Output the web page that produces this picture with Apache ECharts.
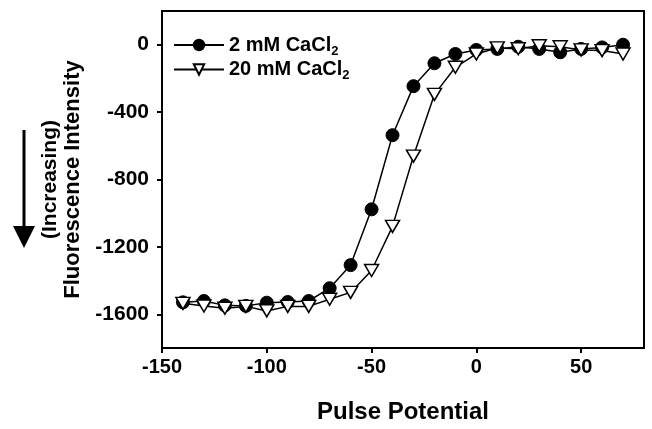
<!DOCTYPE html>
<html>
<head>
    <meta charset="utf-8">
    <title>pulse potential</title>
    <script src="https://cdn.jsdelivr.net/npm/echarts@6/dist/echarts.min.js"></script>
    <style>
        html, body { margin: 0; padding: 0; background: #fff; }
        #chart { width: 652px; height: 429px; }
    </style>
</head>
<body>
<div id="chart"></div>
<script>
    // pulse potential (x) and fluorescence values
    var potentials = [-140, -130, -120, -110, -100, -90, -80, -70, -60, -50, -40, -30, -20, -10, 0, 10, 20, 30, 40, 50, 60, 70];
    var ca2mM = [-1529, -1521, -1547, -1550, -1531, -1527, -1521, -1445, -1308, -977, -537, -246, -110, -55, -31, -25, -12, -25, -45, -25, -16, 0];
    var ca20mM = [-1535, -1551, -1564, -1553, -1580, -1553, -1553, -1511, -1470, -1340, -1078, -661, -295, -134, -55, -19, -24, -6, -12, -31, -35, -55];
    var xTicks = [-150, -100, -50, 0, 50];
    var yTicks = [0, -400, -800, -1200, -1600];

    function pairs(xs, ys) {
        return xs.map(function (x, i) { return [x, ys[i]]; });
    }

    var font = 'Liberation Sans, Arial, sans-serif';
    var myChart = echarts.init(document.getElementById('chart'));
    var option = {
        animation: false,
        textStyle: { fontFamily: font },
        grid: {
            left: 162, right: 8, top: 11, bottom: 81,
            show: true, borderColor: '#000', borderWidth: 2
        },
        legend: {
            orient: 'vertical',
            left: 168, top: 30,
            itemWidth: 50, itemHeight: 13, itemGap: 2,
            data: ['2 mM', '20 mM'],
            formatter: function (name) {
                return name + ' CaCl{sub|2}';
            },
            textStyle: {
                fontFamily: font, fontSize: 20, fontWeight: 'bold', color: '#000',
                rich: {
                    sub: { fontFamily: font, fontSize: 13, fontWeight: 'bold', verticalAlign: 'bottom', padding: [12, 0, 0, 0] }
                }
            }
        },
        xAxis: {
            type: 'value',
            min: -150, max: 80,
            splitLine: { show: false },
            axisLine: { onZero: false, lineStyle: { color: '#000', width: 2 } },
            axisTick: { length: 5, lineStyle: { width: 2 }, customValues: xTicks },
            axisLabel: {
                customValues: xTicks, fontSize: 20, fontWeight: 'bold', color: '#000', margin: 9, fontFamily: font,
                formatter: function (v) { return String(v); }
            },
            name: 'Pulse Potential',
            nameLocation: 'middle',
            nameGap: 52,
            nameTextStyle: { fontSize: 24, fontWeight: 'bold', color: '#000', fontFamily: font }
        },
        yAxis: {
            type: 'value',
            min: -1800, max: 200,
            splitLine: { show: false },
            axisLine: { onZero: false, lineStyle: { color: '#000', width: 2 } },
            axisTick: { length: 5, lineStyle: { width: 2 }, customValues: yTicks },
            axisLabel: {
                customValues: yTicks, fontSize: 21, fontWeight: 'bold', color: '#000', margin: 13, fontFamily: font,
                formatter: function (v) { return String(v); }
            },
            name: '{a|(Increasing)}\n{b|Fluorescence Intensity}',
            nameLocation: 'middle',
            nameRotate: 90,
            nameGap: 76,
            nameTextStyle: {
                color: '#000',
                rich: {
                    a: { fontSize: 21, fontWeight: 'bold', lineHeight: 23, fontFamily: font, color: '#000' },
                    b: { fontSize: 22, fontWeight: 'bold', lineHeight: 23, fontFamily: font, color: '#000' }
                }
            }
        },
        graphic: [
            // downward arrow next to the y title
            { type: 'line', shape: { x1: 24, y1: 130, x2: 24, y2: 230 }, style: { stroke: '#000', lineWidth: 3 } },
            { type: 'polygon', shape: { points: [[13, 226], [35, 226], [24, 248]] }, style: { fill: '#000' } }
        ],
        series: [
            {
                name: '2 mM',
                type: 'line',
                data: pairs(potentials, ca2mM),
                symbol: 'circle',
                symbolSize: 13,
                itemStyle: { color: '#000', borderColor: '#000', borderWidth: 1 },
                lineStyle: { color: '#000', width: 1.5 },
                z: 2
            },
            {
                name: '20 mM',
                type: 'line',
                data: pairs(potentials, ca20mM),
                symbol: 'triangle',
                symbolRotate: 180,
                symbolSize: [14, 12],
                itemStyle: { color: '#fff', borderColor: '#000', borderWidth: 1.5 },
                lineStyle: { color: '#000', width: 1.5 },
                z: 3
            }
        ]
    };
    myChart.setOption(option);
</script>
</body>
</html>
